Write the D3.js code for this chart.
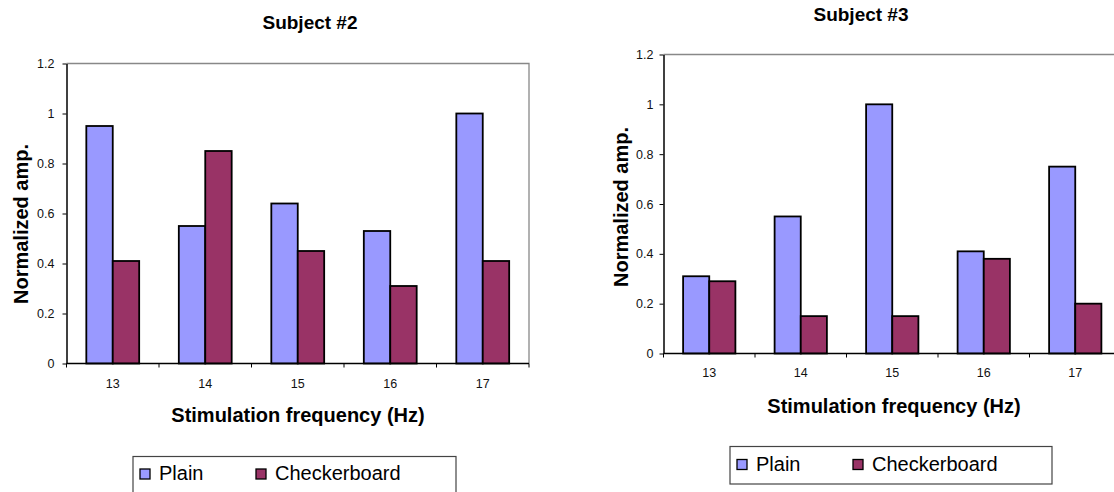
<!DOCTYPE html>
<html>
<head>
<meta charset="utf-8">
<script src="https://cdn.jsdelivr.net/npm/d3@7"></script>
<style>
  html, body { margin: 0; padding: 0; background: #fff; }
  svg { display: block; font-family: "Liberation Sans", Arial, sans-serif; }
</style>
</head>
<body>
<svg id="chart" width="1114" height="492"></svg>
<script>
// Stimulation frequencies (Hz) shown on the x axis
const categories = ["13", "14", "15", "16", "17"];
const seriesNames = ["Plain", "Checkerboard"];
const yTicks = [0, 0.2, 0.4, 0.6, 0.8, 1, 1.2];

// Normalized amplitudes, subject #2
const subject2Plain = [0.95, 0.55, 0.64, 0.53, 1.0];
const subject2Checker = [0.41, 0.85, 0.45, 0.31, 0.41];

// Normalized amplitudes, subject #3
const subject3Plain = [0.31, 0.55, 1.0, 0.41, 0.75];
const subject3Checker = [0.29, 0.15, 0.15, 0.38, 0.20];

const colors = { "Plain": "#9999ff", "Checkerboard": "#993366" };

const svg = d3.select("#chart");

function drawPanel(cfg) {
  const g = svg.append("g");
  const { x0, x1, y0, y1 } = cfg.plot;

  const x = d3.scaleBand().domain(categories).range([x0, x1])
    .paddingInner(1.5 / 3.5).paddingOuter(0.75 / 3.5);
  const xs = d3.scaleBand().domain(seriesNames).range([0, x.bandwidth()]);
  const y = d3.scaleLinear().domain([0, 1.2]).range([y1, y0]);

  // plot frame: grey top/right edges
  g.append("path")
    .attr("d", `M${x0},${y0}H${x1}V${y1}`)
    .attr("fill", "none").attr("stroke", "#888").attr("stroke-width", 1.3);

  // bars
  const rows = categories.map((c, i) => ({
    cat: c,
    vals: [
      { s: "Plain", v: cfg.plain[i] },
      { s: "Checkerboard", v: cfg.checker[i] }
    ]
  }));
  g.selectAll("g.cat").data(rows).join("g")
    .attr("class", "cat")
    .attr("transform", d => `translate(${x(d.cat)},0)`)
    .selectAll("rect").data(d => d.vals).join("rect")
    .attr("x", d => xs(d.s))
    .attr("y", d => y(d.v))
    .attr("width", xs.bandwidth())
    .attr("height", d => y(0) - y(d.v))
    .attr("fill", d => colors[d.s])
    .attr("stroke", "#000").attr("stroke-width", 1.8);

  // y axis
  const yAxis = g.append("g").attr("transform", `translate(${x0},0)`)
    .call(d3.axisLeft(y).tickValues(yTicks).tickFormat(d3.format("~g"))
      .tickSize(4).tickPadding(cfg.yPad).tickSizeOuter(0));
  yAxis.select(".domain").attr("stroke", "#000").attr("stroke-width", 1.5);
  yAxis.selectAll("line").attr("stroke", "#000");
  yAxis.selectAll("text").attr("font-size", 12.5).attr("fill", "#111")
    .attr("font-family", "Liberation Sans, Arial, sans-serif");

  // x axis: tick marks sit on the category boundaries
  const step = x.step();
  const boundaries = d3.range(categories.length + 1).map(i => x0 + i * step);
  g.append("line").attr("x1", x0).attr("x2", x1).attr("y1", y1).attr("y2", y1)
    .attr("stroke", "#000").attr("stroke-width", 1.5);
  g.selectAll("line.xt").data(boundaries).join("line").attr("class", "xt")
    .attr("x1", d => d).attr("x2", d => d).attr("y1", y1).attr("y2", y1 + 4)
    .attr("stroke", "#000");
  g.selectAll("text.xl").data(categories).join("text").attr("class", "xl")
    .attr("x", d => x(d) + x.bandwidth() / 2)
    .attr("y", cfg.xLabelY)
    .attr("text-anchor", "middle").attr("font-size", 12.5).attr("fill", "#111")
    .text(d => d);

  // titles
  g.append("text").attr("x", cfg.title.x).attr("y", cfg.title.y)
    .attr("text-anchor", "middle").attr("font-weight", "bold").attr("font-size", 19)
    .text(cfg.title.text);
  g.append("text").attr("x", cfg.xTitle.x).attr("y", cfg.xTitle.y)
    .attr("text-anchor", "middle").attr("font-weight", "bold").attr("font-size", 20)
    .text("Stimulation frequency (Hz)");
  g.append("text")
    .attr("transform", `translate(${cfg.yTitle.x},${cfg.yTitle.y}) rotate(-90)`)
    .attr("text-anchor", "middle").attr("font-weight", "bold").attr("font-size", 20)
    .text("Normalized amp.");

  // legend
  const L = cfg.legend;
  const lg = g.append("g");
  lg.append("rect").attr("x", L.x).attr("y", L.y).attr("width", L.w).attr("height", L.h)
    .attr("fill", "#fff").attr("stroke", "#444").attr("stroke-width", 1.2);
  const items = lg.selectAll("g.li").data(seriesNames).join("g").attr("class", "li")
    .attr("transform", (d, i) => `translate(${L.x + 7 + i * L.gap},${L.base})`);
  items.append("rect").attr("x", 0).attr("y", -11).attr("width", 10).attr("height", 10)
    .attr("fill", d => colors[d]).attr("stroke", "#000").attr("stroke-width", 1.3);
  items.append("text").attr("x", 19).attr("y", 0).attr("font-size", 20).text(d => d);
}

drawPanel({
  plot: { x0: 66.5, x1: 529, y0: 63.5, y1: 363.5 },
  plain: subject2Plain, checker: subject2Checker,
  yPad: 8, xLabelY: 388,
  title: { text: "Subject #2", x: 310, y: 29 },
  xTitle: { x: 298, y: 421.5 },
  yTitle: { x: 28, y: 224 },
  legend: { x: 133, y: 456.5, w: 323, h: 60, base: 480, gap: 116 }
});

drawPanel({
  plot: { x0: 663.5, x1: 1121, y0: 54.5, y1: 353.5 },
  plain: subject3Plain, checker: subject3Checker,
  yPad: 6, xLabelY: 377,
  title: { text: "Subject #3", x: 861, y: 20.5 },
  xTitle: { x: 894, y: 412.5 },
  yTitle: { x: 628, y: 207 },
  legend: { x: 730, y: 446.5, w: 322, h: 37.5, base: 470.5, gap: 116 }
});
</script>
</body>
</html>
